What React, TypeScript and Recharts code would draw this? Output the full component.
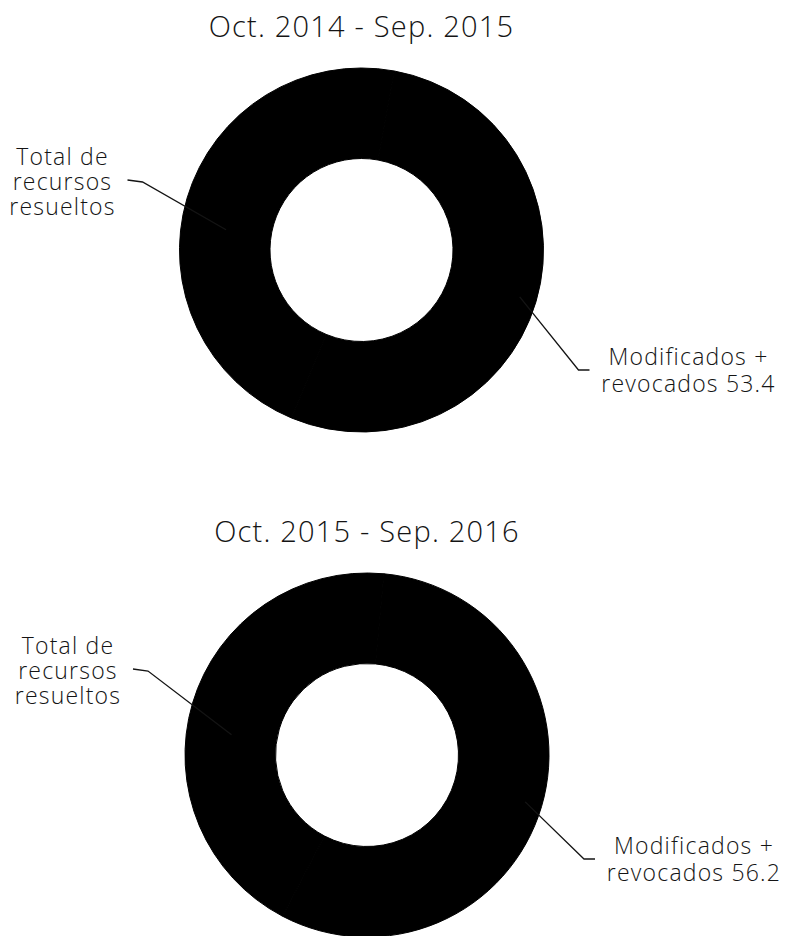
import { PieChart, Pie, Cell } from "recharts";

// periods and values
const PERIODS = ["Oct. 2014 - Sep. 2015", "Oct. 2015 - Sep. 2016"];
const MODIFIED_REVOKED = [53.4, 56.2];
const REST = [46.6, 43.8];
const SEGMENT_NAMES = ["Modificados + revocados", "Total de recursos resueltos"];
const TOTAL_LABEL = ["Total de", "recursos", "resueltos"];
const MODIFIED_LABEL = ["Modificados +", "revocados"];

const FONT = "'Open Sans', 'DejaVu Sans', sans-serif";
const INK = "#141414";
const RAD = Math.PI / 180;

// layout of the two stacked donuts
const PANELS = [
  { cx: 361.5, cy: 250, titleY: 37, shift: 0 },
  { cx: 367, cy: 755, titleY: 542, shift: -16 },
];

const OUTER = 182;
const INNER = 91.5;

function polar(cx: number, cy: number, r: number, angle: number) {
  return { x: cx + r * Math.cos(-angle * RAD), y: cy + r * Math.sin(-angle * RAD) };
}

const renderCallout = (panel: number) => (props: any) => {
  const { cx, cy, midAngle, outerRadius, index } = props;
  const shift = PANELS[panel].shift;
  const textStyle = { fontFamily: FONT, fontSize: 23, fontWeight: 300, letterSpacing: 1.2, fill: INK };

  if (index === 0) {
    const s = polar(cx, cy, outerRadius - 17, midAngle);
    const ex = cx + 217;
    const ey = cy + 120 + shift;
    return (
      <g key={`callout-${panel}-0`}>
        <polyline
          points={`${s.x},${s.y} ${ex},${ey} ${ex + 11},${ey}`}
          fill="none"
          stroke={INK}
          strokeWidth={1.3}
        />
        <text x={cx + 327} y={cy + 115 + shift} textAnchor="middle" style={textStyle}>
          {MODIFIED_LABEL[0]}
        </text>
        <text x={cx + 327} y={cy + 142 + shift} textAnchor="middle" style={textStyle}>
          {`${MODIFIED_LABEL[1]} ${MODIFIED_REVOKED[panel]}`}
        </text>
      </g>
    );
  }

  const s = polar(cx, cy, outerRadius - 45, midAngle + 8);
  const ex = cx - 219;
  const ey = cy - 68 + shift;
  return (
    <g key={`callout-${panel}-1`}>
      <polyline
        points={`${s.x},${s.y} ${ex},${ey} ${ex - 15},${ey - 2}`}
        fill="none"
        stroke={INK}
        strokeWidth={1.3}
      />
      {TOTAL_LABEL.map((line, i) => (
        <text key={line} x={cx - 299} y={cy - 85 + i * 25 + shift} textAnchor="middle" style={textStyle}>
          {line}
        </text>
      ))}
    </g>
  );
};

export default function App() {
  return (
    <div style={{ position: "absolute", left: 0, top: 0, width: 785, height: 936, background: "#fff" }}>
      <PieChart width={785} height={936} margin={{ top: 0, right: 0, bottom: 0, left: 0 }}>
        {PANELS.map((p, i) => {
          const data = [
            { name: SEGMENT_NAMES[0], value: MODIFIED_REVOKED[i] },
            { name: SEGMENT_NAMES[1], value: REST[i] },
          ];
          const sweep = (MODIFIED_REVOKED[i] / (MODIFIED_REVOKED[i] + REST[i])) * 360;
          const start = -16.5 - sweep / 2;
          return (
            <Pie
              key={PERIODS[i]}
              data={data}
              dataKey="value"
              nameKey="name"
              cx={p.cx}
              cy={p.cy}
              innerRadius={INNER}
              outerRadius={OUTER}
              startAngle={start}
              endAngle={start + 360}
              stroke="#000"
              strokeWidth={1}
              label={renderCallout(i)}
              labelLine={false}
              isAnimationActive={false}
            >
              {data.map((d) => (
                <Cell key={d.name} fill="#000" />
              ))}
            </Pie>
          );
        })}
        {PANELS.map((p, i) => (
          <text
            key={`title-${i}`}
            x={p.cx}
            y={p.titleY}
            textAnchor="middle"
            style={{ fontFamily: FONT, fontSize: 29, fontWeight: 300, letterSpacing: 1.2, fill: INK }}
          >
            {PERIODS[i]}
          </text>
        ))}
      </PieChart>
    </div>
  );
}
